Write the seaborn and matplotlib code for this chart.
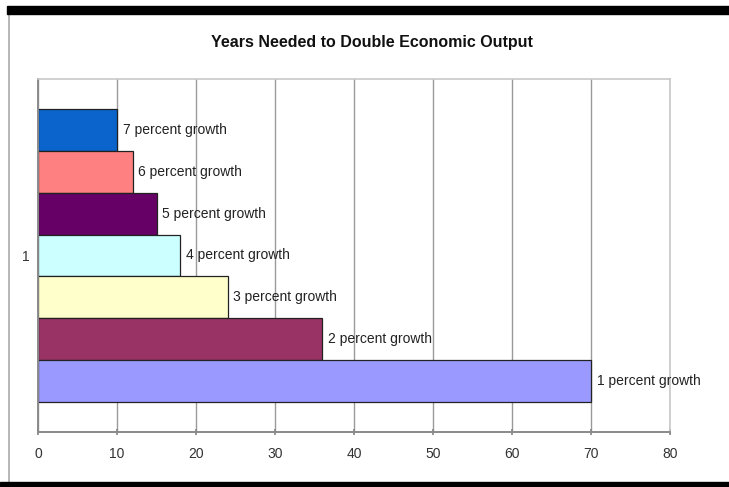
import matplotlib
matplotlib.use("Agg")
import matplotlib.pyplot as plt
import seaborn as sns
import pandas as pd
from matplotlib.patches import Rectangle
from matplotlib.lines import Line2D

# ---- data ----
series = ["7 percent growth", "6 percent growth", "5 percent growth",
          "4 percent growth", "3 percent growth", "2 percent growth",
          "1 percent growth"]
years = [10, 12, 15, 18, 24, 36, 70]
category = ["1"] * len(series)
colors = ["#0A64CC", "#FF8080", "#660066", "#CCFFFF", "#FFFFCC",
          "#993366", "#9999FF"]
x_ticks = [0, 10, 20, 30, 40, 50, 60, 70, 80]
title = "Years Needed to Double Economic Output"

df = pd.DataFrame({"cat": category, "series": series, "years": years})

sns.set_theme(style="white")
plt.rcParams["font.family"] = ["Liberation Sans", "DejaVu Sans"]

fig = plt.figure(figsize=(7.29, 4.87), dpi=100)
fig.patch.set_facecolor("white")
ax = fig.add_axes([38 / 729, 1 - 432 / 487, (670 - 38) / 729, (432 - 79) / 487])

sns.barplot(data=df, x="years", y="cat", hue="series", hue_order=series,
            palette=colors, saturation=1, orient="h", dodge=True, width=0.83,
            edgecolor="#222222", linewidth=0.9, legend=False, ax=ax)

for cont, name in zip(ax.containers, series):
    ax.bar_label(cont, labels=[name], padding=4, fontsize=10, color="#222222")

ax.set_xlim(0, 80)
ax.set_xticks(x_ticks)
ax.set_xticklabels([str(t) for t in x_ticks])
ax.set_xlabel("")
ax.set_ylabel("")
ax.grid(axis="x", color="#9a9a9a", linewidth=1.0)
ax.set_axisbelow(True)
ax.tick_params(axis="x", which="both", bottom=True, length=5, direction="inout",
               color="#888888", labelsize=10, labelcolor="#333333", pad=8)
ax.tick_params(axis="y", left=False, length=0, labelsize=10,
               labelcolor="#333333", pad=6)
for side in ["left", "bottom"]:
    ax.spines[side].set_color("#8a8a8a")
    ax.spines[side].set_linewidth(1.4)
for side in ["top", "right"]:
    ax.spines[side].set_color("#c8c8c8")
    ax.spines[side].set_linewidth(1.2)

fig.text(372 / 729, 1 - 42 / 487, title, ha="center", va="center",
         fontsize=11.5, fontweight="bold", color="#111111")

# screenshot frame decoration
fig.patches.append(Rectangle((7 / 729, 1 - 14 / 487), 1, 8 / 487,
                             transform=fig.transFigure, color="black", zorder=5))
fig.patches.append(Rectangle((0, 0), 1, 5 / 487,
                             transform=fig.transFigure, color="black", zorder=5))
fig.lines.append(Line2D([8.5 / 729, 8.5 / 729], [5 / 487, 1 - 14 / 487],
                        transform=fig.transFigure, color="#aaaaaa", linewidth=1.2))

fig.savefig("out.png", dpi=100)
